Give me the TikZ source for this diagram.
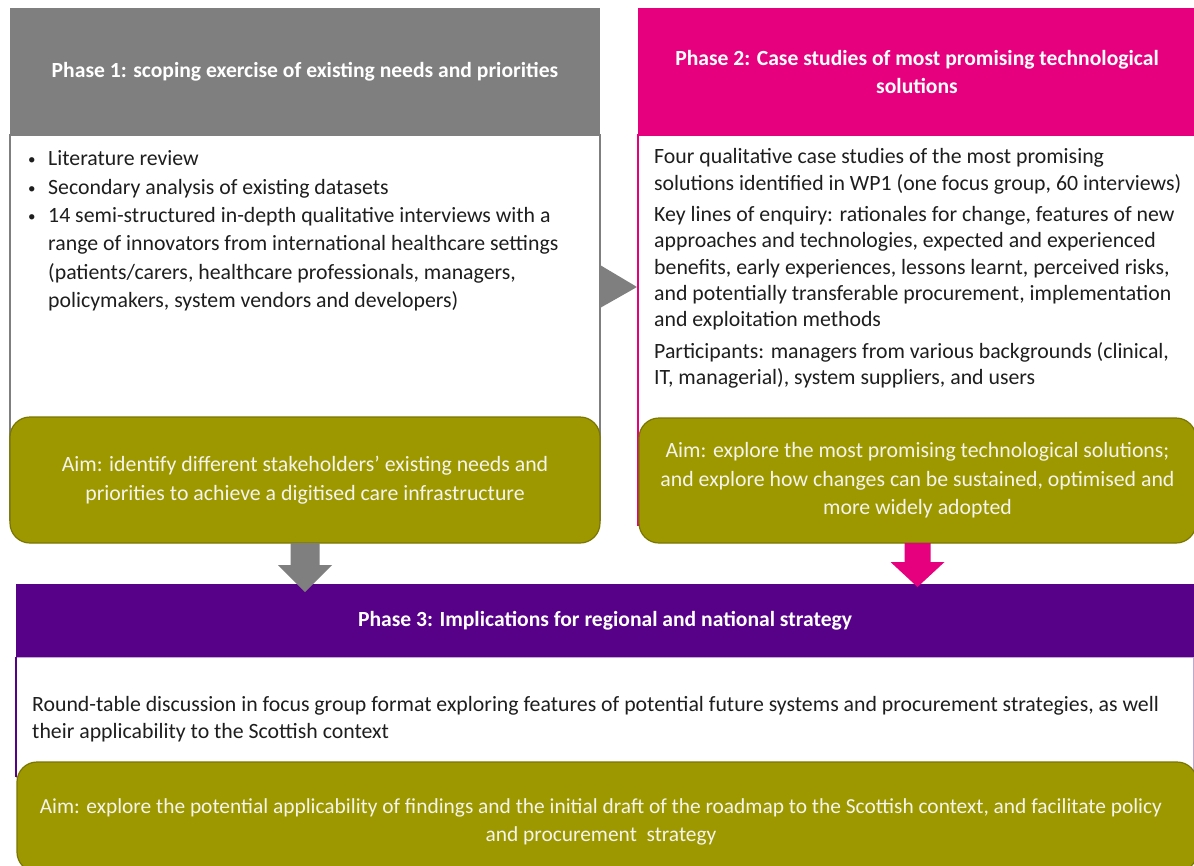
\documentclass[tikz,border=0pt]{standalone}
\usepackage{fontspec}
\setmainfont{Carlito}
\usetikzlibrary{calc}

\definecolor{phaseone}{HTML}{7F7F7F}
\definecolor{phasetwo}{HTML}{E6007E}
\definecolor{phasethree}{HTML}{570088}
\definecolor{aimfill}{HTML}{9D9800}
\definecolor{aimline}{HTML}{7A7600}
\definecolor{bodyink}{HTML}{1E1E1E}
\definecolor{aimink}{HTML}{F4F4EC}

\newcommand{\lstbullet}{\makebox[20pt][l]{\raisebox{1pt}{\fontsize{15}{15}\selectfont•}}}

\begin{document}
\begin{tikzpicture}[x=1pt,y=-1pt,
  box/.style={anchor=north west, inner sep=0pt, outer sep=0pt},
  header/.style={box, text=white, align=center,
    font=\fontsize{21.6}{28}\selectfont\bfseries},
  panel/.style={box, fill=white, line width=2pt},
  aim/.style={box, fill=aimfill, draw=aimline, line width=1.2pt,
    rounded corners=20pt, text=aimink, align=center,
    font=\fontsize{21.8}{28.5}\selectfont},
  bodytext/.style={anchor=north west, inner sep=0pt, text=bodyink,
    align=left}]

\useasboundingbox (0,0) rectangle (1194,865);
\fill[white] (0,0) rectangle (1194,865);

% ---- Phase 1 -------------------------------------------------------
\node[panel, draw=phaseone, minimum width=590pt, minimum height=385pt]
  (b1) at (10,135) {};
\node[header, fill=phaseone, minimum width=590pt, minimum height=127pt]
  (h1) at (10,8) {Phase 1: scoping exercise of existing needs and priorities};
\node[bodytext, font=\fontsize{21.8}{28.4}\selectfont] (t1) at (28,150.5)
  {\lstbullet Literature review\\
   \lstbullet Secondary analysis of existing datasets\\
   \lstbullet 14 semi-structured in-depth qualitative interviews with a\\
   \hspace*{20pt}range of innovators from international healthcare settings\\
   \hspace*{20pt}(patients/carers, healthcare professionals, managers,\\
   \hspace*{20pt}policymakers, system vendors and developers)};
\node[aim, minimum width=590pt, minimum height=126pt] (a1) at (10,417)
  {Aim: identify different stakeholders’ existing needs and\\
   priorities to achieve a digitised care infrastructure};

% ---- Phase 2 -------------------------------------------------------
\node[panel, draw=phasetwo, minimum width=558pt, minimum height=390pt]
  (b2) at (638,135) {};
\node[header, fill=phasetwo, minimum width=558pt, minimum height=127pt]
  (h2) at (638,8) {Phase 2: Case studies of most promising technological\\solutions};
\node[bodytext, font=\fontsize{21.8}{26.2}\selectfont] (t2) at (654,148.5)
  {Four qualitative case studies of the most promising\\
   solutions identified in WP1 (one focus group, 60 interviews)\\[5.5pt]
   Key lines of enquiry: rationales for change, features of new\\
   approaches and technologies, expected and experienced\\
   benefits, early experiences, lessons learnt, perceived risks,\\
   and potentially transferable procurement, implementation\\
   and exploitation methods\\[5.5pt]
   Participants: managers from various backgrounds (clinical,\\
   IT, managerial), system suppliers, and users};
\node[aim, minimum width=557pt, minimum height=125pt] (a2) at (639,418)
  {Aim: explore the most promising technological solutions;\\
   and explore how changes can be sustained, optimised and\\
   more widely adopted};

% ---- Phase 3 -------------------------------------------------------
\node[panel, draw=phasethree!35, line width=1pt,
  minimum width=1177pt, minimum height=120pt] (b3) at (16,657) {};
\draw[phasethree, line width=2pt] (b3.north west) -- (b3.south west);
\node[header, fill=phasethree, minimum width=1178pt, minimum height=73pt]
  (h3) at (16,584) {Phase 3: Implications for regional and national strategy};
\node[bodytext, font=\fontsize{21.8}{27}\selectfont] (t3) at (32,696.5)
  {Round-table discussion in focus group format exploring features of potential future systems and procurement strategies, as well\\
   their applicability to the Scottish context};
\node[aim, font=\fontsize{21.4}{28}\selectfont, minimum width=1180pt,
  minimum height=110pt] (a3) at (17,762) {};
\node[text=aimink, align=center, inner sep=0pt,
  font=\fontsize{21.4}{28}\selectfont] (a3t) at ($(a3.center)+(-6,5)$)
  {Aim: explore the potential applicability of findings and the initial draft of the roadmap to the Scottish context, and facilitate policy\\
   and procurement\ \ strategy};

% ---- Block arrows between the phases --------------------------------
\fill[phaseone]
  ($(b1.north east)+(0,130)$) -- ($(b2.north west)+(-1,152)$)
  -- ($(b1.north east)+(0,173)$) -- cycle;

\fill[phaseone]
  ($(a1.south)+(-14.5,0)$) -- ($(a1.south)+(14.5,0)$)
  -- ($(a1.south)+(14.5,22)$) -- ($(a1.south)+(27,22)$)
  -- ($(a1.south |- h3.north)+(0,8)$)
  -- ($(a1.south)+(-27,22)$) -- ($(a1.south)+(-14.5,22)$) -- cycle;

\fill[phasetwo]
  ($(a2.south)+(-13,0)$) -- ($(a2.south)+(13,0)$)
  -- ($(a2.south)+(13,19)$) -- ($(a2.south)+(27,19)$)
  -- ($(a2.south |- h3.north)+(0,3)$)
  -- ($(a2.south)+(-27,19)$) -- ($(a2.south)+(-13,19)$) -- cycle;

\end{tikzpicture}
\end{document}
